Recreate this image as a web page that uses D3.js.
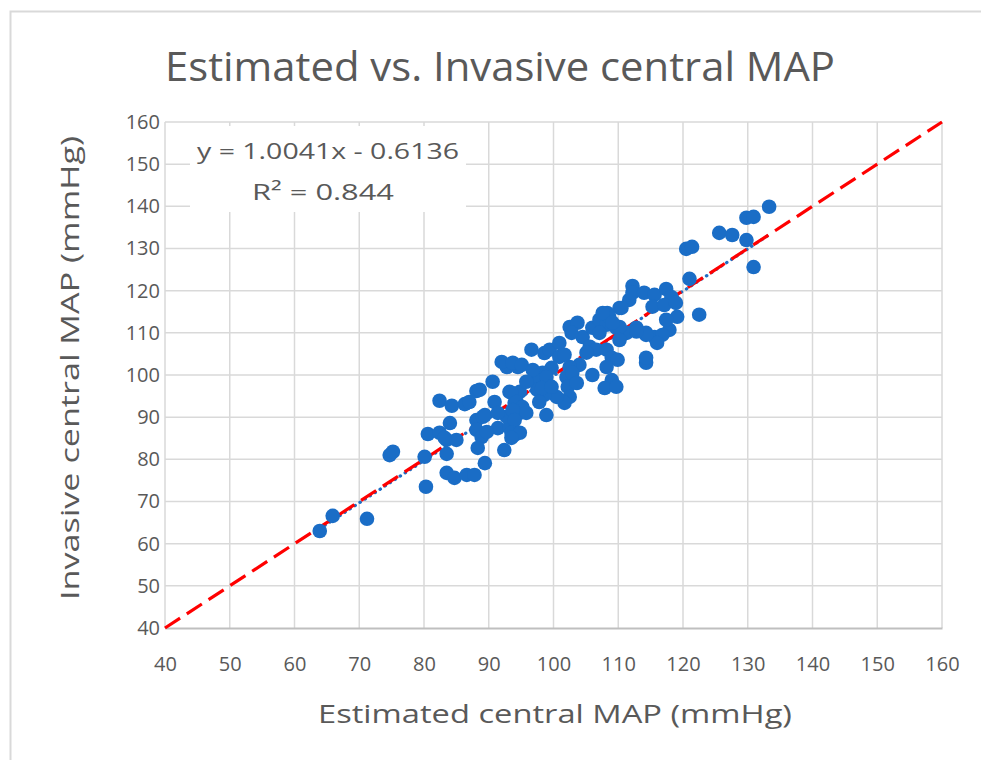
<!DOCTYPE html>
<html>
<head>
<meta charset="utf-8">
<script src="https://cdn.jsdelivr.net/npm/d3@7"></script>
<style>
  html, body { margin: 0; padding: 0; background: #ffffff; }
  svg { display: block; }
  text { font-family: "Open Sans", "Noto Sans", sans-serif; fill: #595959; }
</style>
</head>
<body>
<svg id="chart" width="981" height="760"></svg>
<script>
// Paired readings (mmHg): estimated central MAP vs. invasive central MAP
const estimatedMAP = [
  63.9, 65.9, 71.2, 74.7, 75.2, 80.3, 80.1, 80.6, 82.4, 84.3,
  86.3, 87.0, 88.1, 90.6, 82.4, 84.0, 83.5, 85.0, 83.5, 83.5,
  84.7, 86.6, 87.8, 88.1, 88.1, 88.9, 88.3, 89.4, 89.1, 90.9,
  91.4, 92.4, 93.2, 92.8, 94.0, 93.2, 94.0, 94.8, 94.5, 92.8,
  92.0, 93.7, 95.1, 96.6, 98.6, 99.4, 100.9, 100.9, 102.5, 103.7,
  104.5, 106.0, 107.1, 108.3, 110.2, 111.7, 108.2, 109.7, 111.3, 112.8,
  114.3, 115.6, 114.3, 105.6, 106.6, 105.1, 108.2, 109.0, 109.9, 108.2,
  109.0, 107.9, 106.0, 104.0, 102.5, 102.0, 102.2, 102.5, 101.7, 100.5,
  99.7, 98.3, 97.4, 97.5, 98.6, 96.8, 98.9, 94.8, 93.5, 94.3,
  95.2, 95.8, 93.7, 94.0, 93.5, 89.4, 89.7, 88.6, 95.8, 102.8,
  101.7, 98.9, 98.2, 99.7, 102.9, 103.6, 97.8, 94.8, 133.3, 129.8,
  130.9, 125.6, 127.6, 129.8, 130.9, 120.5, 121.4, 121.0, 122.5, 112.2,
  112.2, 114.0, 115.6, 117.4, 118.2, 115.3, 117.1, 118.9, 119.1, 117.9,
  116.8, 116.0, 114.3, 112.8, 110.5, 108.6, 107.6, 110.2, 114.3, 109.1,
  110.2, 107.1, 117.4, 109.7, 83.2, 93.5, 91.4
];
const invasiveMAP = [
  63.0, 66.6, 65.9, 81.0, 81.8, 73.5, 80.6, 86.0, 93.9, 92.7,
  93.1, 93.6, 96.2, 98.4, 86.3, 88.6, 84.6, 84.6, 81.3, 76.8,
  75.6, 76.3, 76.3, 89.3, 87.0, 85.3, 82.7, 79.1, 90.1, 93.6,
  87.4, 82.2, 87.7, 90.1, 85.8, 96.0, 93.4, 91.0, 101.9, 101.9,
  103.1, 102.9, 102.4, 106.0, 105.2, 106.0, 107.6, 104.3, 111.4, 112.4,
  109.0, 111.2, 113.1, 114.7, 115.9, 117.8, 111.9, 111.2, 110.0, 111.2,
  110.0, 109.0, 102.9, 106.7, 106.0, 105.3, 106.0, 104.1, 103.6, 101.9,
  98.8, 96.9, 100.0, 102.4, 101.9, 99.5, 97.2, 94.8, 93.4, 94.8,
  101.7, 100.5, 98.8, 96.5, 95.3, 101.2, 90.5, 96.0, 95.8, 93.6,
  92.4, 91.0, 91.7, 89.3, 86.3, 90.5, 86.5, 96.5, 98.4, 110.0,
  104.8, 99.5, 96.9, 97.2, 100.5, 98.1, 93.6, 86.3, 139.9, 137.3,
  137.5, 133.7, 133.2, 132.0, 125.6, 129.9, 130.4, 122.8, 114.3, 121.1,
  119.5, 119.5, 119.0, 120.4, 118.5, 116.2, 116.6, 117.1, 113.8, 110.7,
  109.5, 107.6, 109.5, 110.3, 115.9, 113.8, 114.7, 111.4, 104.1, 112.4,
  108.3, 110.0, 113.1, 97.2, 85.1, 85.1, 91.0
];

// Axis ticks
const xTicks = [40, 50, 60, 70, 80, 90, 100, 110, 120, 130, 140, 150, 160];
const yTicks = [40, 50, 60, 70, 80, 90, 100, 110, 120, 130, 140, 150, 160];

// Linear fit shown on the chart
const fitSlope = 1.0041;
const fitIntercept = -0.6136;
const fitLabel = "y = 1.0041x - 0.6136";
const r2Label = "R\u00B2 = 0.844";

// Line of identity (y = x)
const identityLine = [40, 160];

const titleText = "Estimated vs. Invasive central MAP";
const xTitle = "Estimated central MAP (mmHg)";
const yTitle = "Invasive central MAP (mmHg)";

const svg = d3.select("#chart");
const plot = { left: 165, right: 942, top: 122, bottom: 628 };

const x = d3.scaleLinear().domain([40, 160]).range([plot.left, plot.right]);
const y = d3.scaleLinear().domain([40, 160]).range([plot.bottom, plot.top]);

// Outer chart frame
svg.append("rect")
  .attr("x", 10.5).attr("y", 11.5)
  .attr("width", 1000).attr("height", 800)
  .attr("fill", "#ffffff")
  .attr("stroke", "#d9d9d9").attr("stroke-width", 2);

// Title
svg.append("text")
  .attr("x", 500).attr("y", 81)
  .attr("text-anchor", "middle")
  .attr("font-size", 40)
  .attr("textLength", 670).attr("lengthAdjust", "spacingAndGlyphs")
  .text(titleText);

// Gridlines
const grid = svg.append("g");
grid.selectAll("line.v").data(xTicks.slice(1)).join("line")
  .attr("x1", d => x(d)).attr("x2", d => x(d))
  .attr("y1", plot.top).attr("y2", plot.bottom)
  .attr("stroke", "#d9d9d9").attr("stroke-width", 1.5);
grid.selectAll("line.h").data(yTicks.slice(1)).join("line")
  .attr("x1", plot.left).attr("x2", plot.right)
  .attr("y1", d => y(d)).attr("y2", d => y(d))
  .attr("stroke", "#d9d9d9").attr("stroke-width", 1.5);
// left edge of plot
grid.append("line")
  .attr("x1", plot.left).attr("x2", plot.left)
  .attr("y1", plot.top).attr("y2", plot.bottom)
  .attr("stroke", "#d9d9d9").attr("stroke-width", 1.5);

// Axes (tick labels only, with a baseline along the bottom)
const xAxis = d3.axisBottom(x).tickValues(xTicks).tickSize(0).tickPadding(36);
const gx = svg.append("g").attr("transform", `translate(0,${plot.bottom})`).call(xAxis);
gx.select(".domain").attr("stroke", "#bfbfbf").attr("stroke-width", 1.8);
gx.selectAll("text").attr("font-size", 20).attr("fill", "#595959")
  .attr("font-family", "\"Open Sans\", sans-serif").attr("dy", "0.35em");

const yAxis = d3.axisLeft(y).tickValues(yTicks).tickSize(0).tickPadding(5);
const gy = svg.append("g").attr("transform", `translate(${plot.left},0)`).call(yAxis);
gy.select(".domain").remove();
gy.selectAll("text").attr("font-size", 20).attr("fill", "#595959")
  .attr("font-family", "\"Open Sans\", sans-serif");

// Axis titles
svg.append("text")
  .attr("x", 555).attr("y", 723)
  .attr("text-anchor", "middle")
  .attr("font-size", 26)
  .attr("textLength", 474).attr("lengthAdjust", "spacingAndGlyphs")
  .text(xTitle);
svg.append("text")
  .attr("transform", `translate(79,368) rotate(-90)`)
  .attr("text-anchor", "middle")
  .attr("font-size", 26)
  .attr("textLength", 464).attr("lengthAdjust", "spacingAndGlyphs")
  .text(yTitle);

// Fit label box
svg.append("rect")
  .attr("x", 190).attr("y", 126).attr("width", 276).attr("height", 86)
  .attr("fill", "#ffffff");
svg.append("text")
  .attr("x", 328).attr("y", 159)
  .attr("text-anchor", "middle")
  .attr("font-size", 22.5)
  .attr("textLength", 262).attr("lengthAdjust", "spacingAndGlyphs")
  .text(fitLabel);
svg.append("text")
  .attr("x", 323).attr("y", 200)
  .attr("text-anchor", "middle")
  .attr("font-size", 22.5)
  .attr("textLength", 142).attr("lengthAdjust", "spacingAndGlyphs")
  .text(r2Label);

// Fitted regression line (dotted), spanning the observed estimated range
const xMin = d3.min(estimatedMAP), xMax = d3.max(estimatedMAP);
svg.append("line")
  .attr("x1", x(xMin)).attr("y1", y(fitSlope * xMin + fitIntercept))
  .attr("x2", x(xMax)).attr("y2", y(fitSlope * xMax + fitIntercept))
  .attr("stroke", "#1f6fc5").attr("stroke-width", 3.2)
  .attr("stroke-linecap", "round").attr("stroke-dasharray", "0.5,5.5");

// Identity line (red long-dash)
svg.append("line")
  .attr("x1", x(identityLine[0])).attr("y1", y(identityLine[0]))
  .attr("x2", x(identityLine[1])).attr("y2", y(identityLine[1]))
  .attr("stroke", "#ff0000").attr("stroke-width", 3.2)
  .attr("stroke-dasharray", "18,8");

// Scatter points
const pts = d3.zip(estimatedMAP, invasiveMAP);
svg.append("g").selectAll("circle").data(pts).join("circle")
  .attr("cx", d => x(d[0])).attr("cy", d => y(d[1]))
  .attr("r", 7.3)
  .attr("fill", "#1a6dc6");
</script>
</body>
</html>
